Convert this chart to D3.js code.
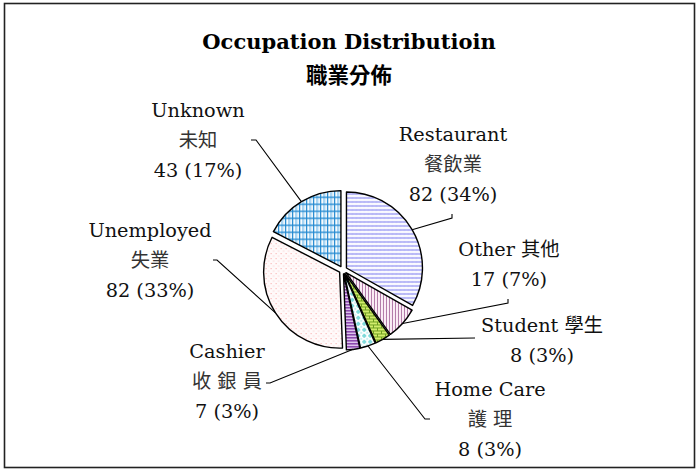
<!DOCTYPE html>
<html>
<head>
<meta charset="utf-8">
<script src="https://cdn.jsdelivr.net/npm/d3@7"></script>
<style>
  html, body { margin: 0; padding: 0; background: #fff; }
  svg { display: block; }
  text { font-family: "DejaVu Serif", "Noto Sans CJK TC", serif; }
</style>
</head>
<body>
<svg id="chart" width="699" height="472"></svg>
<script>
// ---- data ----
const categories = ["Restaurant", "Other", "Student", "Home Care", "Cashier", "Unemployed", "Unknown"];
const labelNames = [["Restaurant", "餐飲業"], ["Other 其他"], ["Student 學生"], ["Home Care", "護 理"], ["Cashier", "收 銀 員"], ["Unemployed", "失業"], ["Unknown", "未知"]];
const values = [82, 17, 8, 8, 7, 82, 43];
const percentLabels = ["34%", "7%", "3%", "3%", "3%", "33%", "17%"];
const titleLines = ["Occupation Distributioin", "職業分佈"];

// ---- layout ----
const W = 699, H = 472;
const cx = 343, cy = 270, R = 76, explode = 4;
const svg = d3.select("#chart");

// frame
svg.append("rect").attr("x", 4.5).attr("y", 3.5).attr("width", 690).attr("height", 464)
  .attr("fill", "#fff").attr("stroke", "#222").attr("stroke-width", 1.6);

// patterns
const defs = svg.append("defs");
function pat(id, w, h, bg, draw) {
  const p = defs.append("pattern").attr("id", id).attr("patternUnits", "userSpaceOnUse")
    .attr("width", w).attr("height", h);
  p.append("rect").attr("width", w).attr("height", h).attr("fill", bg);
  draw(p);
}
// Restaurant: lavender zigzag rows
pat("p0", 4, 4, "#fbfbff", p => {
  p.append("path").attr("d", "M0,2.5 L1,1.5 L2,2.5 L3,1.5 L4,2.5").attr("fill", "none")
    .attr("stroke", "#a4a4f4").attr("stroke-width", 1.1);
});
// Other: mauve vertical lines
pat("p1", 3, 4, "#fbeef6", p => {
  p.append("rect").attr("x", 1).attr("width", 1).attr("height", 4).attr("fill", "#b27aa8");
});
// Student: green brick
pat("p2", 8, 6, "#d2ec6c", p => {
  p.append("rect").attr("y", 0).attr("width", 8).attr("height", 1).attr("fill", "#6f9e20");
  p.append("rect").attr("y", 3).attr("width", 8).attr("height", 1).attr("fill", "#6f9e20");
  p.append("rect").attr("x", 0).attr("y", 0).attr("width", 1).attr("height", 3).attr("fill", "#6f9e20");
  p.append("rect").attr("x", 4).attr("y", 3).attr("width", 1).attr("height", 3).attr("fill", "#6f9e20");
});
// Home Care: cyan plaid
pat("p3", 6, 6, "#ffffff", p => {
  p.append("rect").attr("x", 1).attr("y", 0).attr("width", 2).attr("height", 4).attr("fill", "#7edada");
  p.append("rect").attr("x", 0).attr("y", 1).attr("width", 4).attr("height", 2).attr("fill", "#7edada");
  p.append("rect").attr("x", 4).attr("y", 4).attr("width", 2).attr("height", 2).attr("fill", "#c8f0f0");
});
// Cashier: purple horizontal stripes
pat("p4", 4, 3, "#e0c8ee", p => {
  p.append("rect").attr("y", 0).attr("width", 4).attr("height", 1.6).attr("fill", "#8a48ac");
});
// Unemployed: pink dots
pat("p5", 5, 5, "#fffafa", p => {
  p.append("rect").attr("x", 1).attr("y", 1).attr("width", 1).attr("height", 1).attr("fill", "#f7a0a0");
  p.append("rect").attr("x", 3.5).attr("y", 3.5).attr("width", 1).attr("height", 1).attr("fill", "#fac0c0");
});
// Unknown: blue grid
pat("p6", 7, 7, "#ffffff", p => {
  p.append("rect").attr("x", 3).attr("y", 0).attr("width", 2.5).attr("height", 7).attr("fill", "#a8d4f2");
  p.append("rect").attr("x", 0).attr("y", 0).attr("width", 1.3).attr("height", 7).attr("fill", "#2188d0");
  p.append("rect").attr("x", 0).attr("y", 0).attr("width", 7).attr("height", 1.3).attr("fill", "#2188d0");
});

// pie
const pie = d3.pie().sort(null).value(d => d).startAngle(0).endAngle(2 * Math.PI);
const arcs = pie(values);
const arc = d3.arc().innerRadius(0).outerRadius(R);

const g = svg.append("g").attr("transform", `translate(${cx},${cy})`);
g.selectAll("path.slice").data(arcs).enter().append("path")
  .attr("class", "slice")
  .attr("transform", d => {
    const a = (d.startAngle + d.endAngle) / 2;
    return `translate(${explode * Math.sin(a)},${-explode * Math.cos(a)})`;
  })
  .attr("d", arc)
  .attr("fill", (d, i) => `url(#p${i})`)
  .attr("stroke", "#000").attr("stroke-width", 1.4).attr("stroke-linejoin", "round");

// label layout: center x, first baseline, leader end, tick end
const labelPos = [
  { x: 453, y: 141, end: [452, 218], tick: [452, 214] },
  { x: 509, y: 256, end: [508, 303], tick: [508, 299] },
  { x: 542, y: 332, end: [475, 338], tick: null },
  { x: 490, y: 396, end: [425, 419], tick: [430, 419] },
  { x: 227, y: 358, end: [270, 383], tick: [266, 383] },
  { x: 150, y: 237, end: [217, 260], tick: [213, 260] },
  { x: 198, y: 117, end: [256, 140], tick: [251, 140] }
];
const lineH = 30;

arcs.forEach((d, i) => {
  const a = (d.startAngle + d.endAngle) / 2;
  const sx = cx + (R + explode) * Math.sin(a), sy = cy - (R + explode) * Math.cos(a);
  const lp = labelPos[i];
  const pts = [[sx, sy], lp.end];
  if (lp.tick) pts.push(lp.tick);
  svg.append("path").attr("d", d3.line()(pts)).attr("fill", "none")
    .attr("stroke", "#000").attr("stroke-width", 1.1);

  const lines = labelNames[i].concat([`${values[i]} (${percentLabels[i]})`]);
  const t = svg.append("text").attr("text-anchor", "middle").attr("font-size", 19.3).attr("fill", "#111");
  lines.forEach((ln, k) => {
    t.append("tspan").attr("x", lp.x).attr("y", lp.y + k * lineH).text(ln)
      .attr("fill", /[\u4e00-\u9fff]/.test(ln) && !/[A-Za-z]/.test(ln) ? "#333" : "#111");
  });
});

// title
svg.append("text").attr("x", 349).attr("y", 49).attr("text-anchor", "middle")
  .attr("font-size", 21).attr("font-weight", "bold").attr("fill", "#000").text(titleLines[0]);
svg.append("text").attr("x", 349).attr("y", 83).attr("text-anchor", "middle")
  .attr("font-size", 21.5).attr("font-weight", "bold").attr("fill", "#000")
  .style("font-family", "'Noto Sans CJK TC', sans-serif").text(titleLines[1]);
</script>
</body>
</html>
